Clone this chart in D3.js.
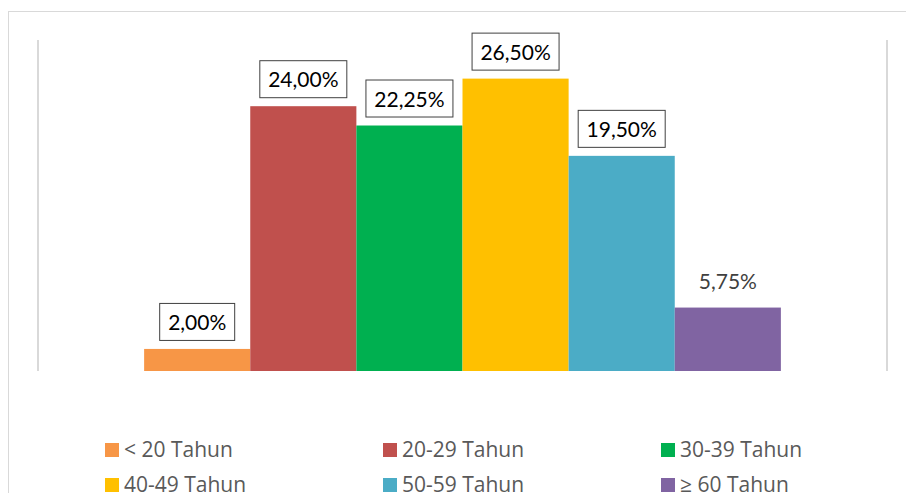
<!DOCTYPE html>
<html>
<head>
<meta charset="utf-8">
<script src="https://cdn.jsdelivr.net/npm/d3@7"></script>
<style>
  body { margin: 0; background: #fff; }
  svg { display: block; }
</style>
</head>
<body>
<div id="chart"></div>
<script>
const width = 906;
const height = 493;

// data
const series = ["< 20 Tahun", "20-29 Tahun", "30-39 Tahun", "40-49 Tahun", "50-59 Tahun", "≥ 60 Tahun"];
const values = [2.00, 24.00, 22.25, 26.50, 19.50, 5.75];
const colors = ["#F79646", "#C0504D", "#00B050", "#FFC000", "#4BACC6", "#8064A2"];
const boxed = [true, true, true, true, true, false];

const plot = { left: 38, right: 887, top: 40, bottom: 371 };

const svg = d3.select("#chart")
  .append("svg")
  .attr("width", width)
  .attr("height", height);

// chart area border
svg.append("rect")
  .attr("x", 8.5)
  .attr("y", 11.5)
  .attr("width", 910)
  .attr("height", 500)
  .attr("fill", "none")
  .attr("stroke", "#d9d9d9");

const x = d3.scaleBand()
  .domain(series)
  .range([plot.left, plot.right])
  .paddingInner(0)
  .paddingOuter(1);

const y = d3.scaleLinear()
  .domain([0, 30])
  .range([plot.bottom, plot.top]);

// vertical boundary lines
svg.selectAll("line.edge")
  .data([plot.left, plot.right])
  .enter()
  .append("line")
  .attr("class", "edge")
  .attr("x1", (d) => d)
  .attr("x2", (d) => d)
  .attr("y1", plot.top)
  .attr("y2", plot.bottom)
  .attr("stroke", "#d9d9d9")
  .attr("stroke-width", 2);

// bars
svg.selectAll("rect.bar")
  .data(values)
  .enter()
  .append("rect")
  .attr("class", "bar")
  .attr("x", (d, i) => x(series[i]))
  .attr("width", x.bandwidth())
  .attr("y", (d) => y(d))
  .attr("height", (d) => y(0) - y(d))
  .attr("fill", (d, i) => colors[i]);

// data labels
const fmt = (v) => v.toFixed(2).replace(".", ",") + "%";
const labels = svg.selectAll("g.label")
  .data(values)
  .enter()
  .append("g")
  .attr("class", "label")
  .attr("transform", (d, i) =>
    `translate(${x(series[i]) + x.bandwidth() / 2}, ${y(d) - 8})`);

labels.append("text")
  .attr("text-anchor", "middle")
  .attr("y", -11)
  .attr("font-family", "Lato, 'Open Sans', sans-serif")
  .attr("font-size", "21px")
  .attr("fill", (d, i) => (boxed[i] ? "#000" : "#404040"))
  .text(fmt);

labels.each(function (d, i) {
  if (!boxed[i]) return;
  const g = d3.select(this);
  const bb = g.select("text").node().getBBox();
  g.insert("rect", "text")
    .attr("x", Math.round(bb.x - 8.5) + 0.5)
    .attr("y", -37.5)
    .attr("width", Math.round(bb.width + 17))
    .attr("height", 37)
    .attr("fill", "#fff")
    .attr("stroke", "#404040")
    .attr("stroke-width", 1);
});

// legend
const legend = svg.selectAll("g.legend")
  .data(series)
  .enter()
  .append("g")
  .attr("class", "legend")
  .attr("transform", (d, i) =>
    `translate(${105 + (i % 3) * 278}, ${443 + Math.floor(i / 3) * 35})`);

legend.append("rect")
  .attr("width", 14)
  .attr("height", 14)
  .attr("fill", (d, i) => colors[i]);

legend.append("text")
  .attr("x", 19)
  .attr("y", 14)
  .attr("font-family", "'Open Sans', sans-serif")
  .attr("font-size", "21px")
  .attr("fill", "#595959")
  .text((d) => d);
</script>
</body>
</html>
